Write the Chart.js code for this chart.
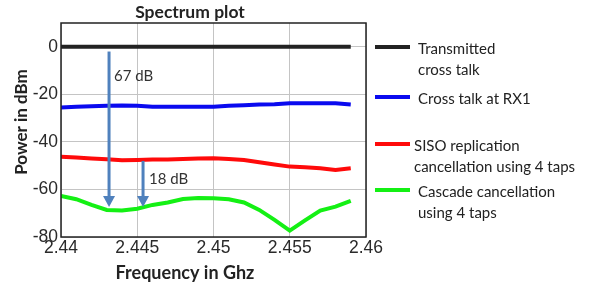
<!DOCTYPE html>
<html>
<head>
<meta charset="utf-8">
<script src="https://cdn.jsdelivr.net/npm/chart.js@4/dist/chart.umd.min.js"></script>
<style>
  html, body { margin: 0; padding: 0; background: #fff; }
  #wrap { width: 597px; height: 287px; position: relative; }
</style>
</head>
<body>
<div id="wrap"><canvas id="spectrumChart" width="597" height="287"></canvas></div>
<script>
// frequency points (GHz)
const freqs = [2.440, 2.441, 2.442, 2.443, 2.444, 2.445, 2.446, 2.447, 2.448, 2.449,
               2.450, 2.451, 2.452, 2.453, 2.454, 2.455, 2.456, 2.457, 2.458, 2.459];

const transmitted = [0, 0, 0, 0, 0, 0, 0, 0, 0, 0, 0, 0, 0, 0, 0, 0, 0, 0, 0, 0];
const crossTalkRx1 = [-25.5, -25.2, -25.0, -24.8, -24.7, -24.8, -25.2, -25.2, -25.2, -25.2,
                      -25.2, -24.8, -24.6, -24.3, -24.2, -23.8, -23.7, -23.8, -23.8, -24.3];
const sisoCancel = [-46.2, -46.6, -47.0, -47.3, -47.7, -47.6, -47.4, -47.4, -47.2, -47.0,
                    -46.9, -47.2, -47.6, -48.6, -49.5, -50.4, -50.7, -51.1, -51.8, -51.1];
const cascadeCancel = [-62.7, -64.1, -66.5, -68.6, -68.9, -68.1, -66.5, -65.5, -64.0, -63.6,
                       -63.7, -64.1, -65.5, -68.6, -72.8, -77.3, -73.0, -68.9, -67.2, -64.8];

const xTicks = [2.44, 2.445, 2.45, 2.455, 2.46];
const yTicks = [-80, -60, -40, -20, 0];

const seriesNames = [['Transmitted', 'cross talk'], ['Cross talk at RX1'],
                     ['SISO replication', 'cancellation using 4 taps'], ['Cascade cancellation', 'using 4 taps']];
const seriesColors = ['#222222', '#0a0aef', '#ff0a0a', '#14f014'];

// arrow annotations: [x, yStart, yEnd, label]
const arrows = [[2.44315, -2, -67.4, '67 dB'], [2.44538, -48, -67.4, '18 dB']];

function toPoints(ys) {
  return freqs.map((f, i) => ({ x: f, y: ys[i] }));
}

const extras = {
  id: 'extras',
  afterDatasetsDraw(chart) {
    const ctx = chart.ctx;
    const xs = chart.scales.x, ys = chart.scales.y;
    const area = chart.chartArea;

    // arrows
    ctx.save();
    ctx.strokeStyle = '#4f81bd';
    ctx.fillStyle = '#4f81bd';
    ctx.lineWidth = 3;
    arrows.forEach(a => {
      const px = xs.getPixelForValue(a[0]);
      const y0 = ys.getPixelForValue(a[1]);
      const y1 = ys.getPixelForValue(a[2]);
      ctx.beginPath();
      ctx.moveTo(px, y0);
      ctx.lineTo(px, y1 - 9);
      ctx.stroke();
      ctx.beginPath();
      ctx.moveTo(px - 6, y1 - 11);
      ctx.lineTo(px + 6, y1 - 11);
      ctx.lineTo(px, y1);
      ctx.closePath();
      ctx.fill();
    });
    ctx.fillStyle = '#333';
    ctx.font = '15px Lato';
    ctx.textBaseline = 'middle';
    ctx.fillText(arrows[0][3], xs.getPixelForValue(arrows[0][0]) + 5, ys.getPixelForValue(-12.5));
    ctx.fillText(arrows[1][3], xs.getPixelForValue(arrows[1][0]) + 6, ys.getPixelForValue(-55.5));

    // box
    ctx.strokeStyle = '#222';
    ctx.lineWidth = 1.5;
    ctx.strokeRect(area.left, area.top, area.right - area.left, area.bottom - area.top);
    ctx.restore();
  },
  afterDraw(chart) {
    const ctx = chart.ctx;
    ctx.save();
    ctx.fillStyle = '#222';
    ctx.textAlign = 'center';
    ctx.textBaseline = 'middle';
    ctx.font = 'bold 17.5px Lato';
    ctx.fillText('Spectrum plot', 190, 12);
    ctx.font = 'bold 18px Lato';
    ctx.fillText('Frequency in Ghz', 185, 273);
    ctx.save();
    ctx.translate(22, 122);
    ctx.rotate(-Math.PI / 2);
    ctx.font = 'bold 17px Lato';
    ctx.fillText('Power in dBm', 0, 0);
    ctx.restore();

    // legend
    ctx.textAlign = 'left';
    ctx.font = '15px Lato';
    const rows = [47, 97, 144, 190];
    seriesNames.forEach((lines, i) => {
      const y = rows[i];
      ctx.strokeStyle = seriesColors[i];
      ctx.lineWidth = 4;
      ctx.beginPath();
      ctx.moveTo(375, y);
      ctx.lineTo(410, y);
      ctx.stroke();
      ctx.fillStyle = '#222';
      lines.forEach((t, j) => ctx.fillText(t, i === 2 ? 414 : 418, y + 2 + j * 21));
    });
    ctx.restore();
  }
};

const datasets = [transmitted, crossTalkRx1, sisoCancel, cascadeCancel].map((ys, i) => ({
  label: seriesNames[i].join(' '),
  data: toPoints(ys),
  borderColor: seriesColors[i],
  borderWidth: 4,
  pointRadius: 0,
  tension: 0,
  fill: false
}));

new Chart(document.getElementById('spectrumChart'), {
  type: 'line',
  data: { datasets: datasets },
  options: {
    responsive: false,
    animation: false,
    layout: { padding: { top: 23, right: 231, left: 0, bottom: 0 } },
    plugins: { legend: { display: false }, tooltip: { enabled: false } },
    scales: {
      x: {
        type: 'linear',
        min: 2.44,
        max: 2.46,
        afterBuildTicks: s => { s.ticks = xTicks.map(v => ({ value: v })); },
        afterFit: s => { s.height = 50; },
        grid: { color: '#c4c4c4', lineWidth: 1, drawTicks: false },
        border: { display: false },
        ticks: {
          padding: 1,
          color: '#2a2a2a',
          font: { family: 'Liberation Sans', size: 17.5 },
          maxRotation: 0,
          callback: v => String(+v.toFixed(3))
        }
      },
      y: {
        min: -80,
        max: 10,
        afterBuildTicks: s => { s.ticks = yTicks.map(v => ({ value: v })); },
        afterFit: s => { s.width = 61; },
        grid: { color: '#c4c4c4', lineWidth: 1, drawTicks: false },
        border: { display: false },
        ticks: {
          padding: 3,
          color: '#2a2a2a',
          font: { family: 'Liberation Sans', size: 17.5 }
        }
      }
    }
  },
  plugins: [extras]
});
</script>
</body>
</html>
